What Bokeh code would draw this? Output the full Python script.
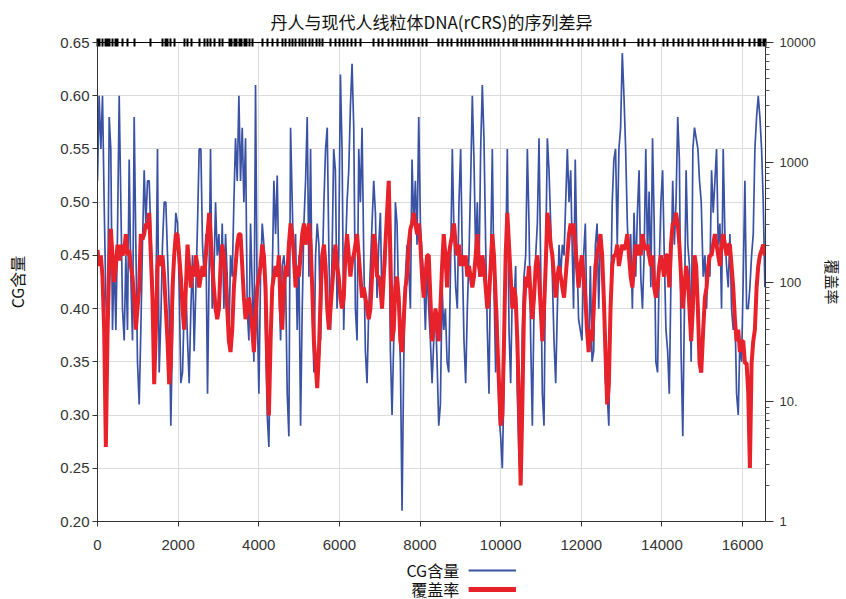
from bokeh.plotting import figure
from bokeh.layouts import column
from bokeh.core.properties import value
from bokeh.models import (Range1d, LogScale, LinearAxis, LogAxis, FixedTicker,
                          CustomJSTickFormatter, NumeralTickFormatter)
from bokeh.embed import file_html
from bokeh.resources import INLINE

BLUE = "#3a52a3"
RED = "#e8222b"
CJK = "Noto Sans CJK SC"
NUM = "Liberation Sans Narrow, Liberation Sans, sans-serif"

# ---------------- data ----------------
x_ticks = [0, 2000, 4000, 6000, 8000, 10000, 12000, 14000, 16000]
cg_ticks = [0.20, 0.25, 0.30, 0.35, 0.40, 0.45, 0.50, 0.55, 0.60, 0.65]
cov_ticks = [1, 10, 100, 1000, 10000]
cov_minor = [2, 3, 4, 5, 6, 7, 8, 9, 20, 30, 40, 50, 60, 70, 80, 90,
             200, 300, 400, 500, 600, 700, 800, 900,
             2000, 3000, 4000, 5000, 6000, 7000, 8000, 9000]
legend_names = ["CG含量", "覆盖率"]

# window positions along the mitochondrial genome (bp)
pos = [
    0, 40, 83, 124, 165, 207, 248, 290, 330, 372,
    414, 455, 496, 538, 579, 620, 662, 703, 744, 786,
    827, 868, 910, 951, 992, 1034, 1075, 1116, 1158, 1199,
    1240, 1282, 1323, 1364, 1406, 1447, 1488, 1530, 1571, 1612,
    1654, 1695, 1737, 1778, 1819, 1861, 1902, 1943, 1985, 2026,
    2067, 2109, 2150, 2192, 2233, 2274, 2316, 2357, 2398, 2440,
    2481, 2522, 2564, 2605, 2646, 2688, 2729, 2770,
    2804, 2845, 2887, 2928, 2970, 3011, 3052, 3094, 3135, 3176,
    3218, 3259, 3300, 3342, 3383, 3424, 3466, 3507, 3548, 3590,
    3631, 3672, 3714, 3755, 3796, 3838, 3879, 3920, 3962, 4003,
    4044, 4086, 4127, 4168, 4210, 4251, 4293, 4334, 4375, 4417,
    4458, 4499, 4541, 4582, 4623, 4665, 4706, 4747, 4789, 4830,
    4871, 4913, 4954, 4995, 5037, 5078, 5120, 5161, 5202, 5244,
    5285, 5326, 5368, 5409, 5450, 5492, 5533, 5574, 5616, 5657,
    5698, 5740, 5781,
    5818, 5859, 5900, 5942, 5983, 6025, 6066, 6107, 6149, 6190,
    6232, 6273, 6314, 6356, 6397, 6438, 6480, 6521, 6562, 6604,
    6645, 6686, 6728, 6769, 6810, 6852, 6893, 6934, 6976, 7017,
    7058, 7100, 7141, 7182, 7224, 7265, 7306, 7348, 7389, 7430,
    7472, 7513, 7554, 7596, 7637, 7678, 7720, 7761, 7802, 7844,
    7885, 7926, 7968, 8009, 8051, 8092, 8133, 8175, 8216, 8257,
    8299, 8340, 8381, 8423, 8464, 8505, 8547, 8588, 8629, 8671,
    8712, 8753,
    8801, 8842, 8884, 8925, 8966, 9008, 9049, 9090, 9132, 9173,
    9214, 9256, 9297, 9338, 9380, 9421, 9462, 9504, 9545, 9586,
    9628, 9669, 9710, 9752, 9793, 9834, 9876, 9917, 9959, 10000,
    10041, 10083, 10124, 10165, 10207, 10248, 10290, 10331, 10372, 10414,
    10455, 10496, 10538, 10579, 10621, 10662, 10703, 10745, 10786, 10827,
    10869, 10910, 10951, 10993, 11034, 11075, 11117, 11158, 11199, 11241,
    11282, 11323, 11365, 11406, 11448, 11489, 11530, 11572, 11613, 11654,
    11696, 11737,
    11767, 11808, 11850, 11892, 11933, 11975, 12017, 12058, 12100, 12142,
    12183, 12225, 12267, 12308, 12350, 12392, 12433, 12475, 12517, 12558,
    12600, 12642, 12683, 12725, 12767, 12808, 12850, 12892, 12933, 12975,
    13017, 13058, 13100, 13142, 13183, 13225, 13267, 13308, 13350, 13392,
    13433, 13475, 13517, 13558, 13600, 13642, 13683, 13725, 13767, 13808,
    13850, 13892, 13933, 13975, 14017, 14058, 14100, 14142, 14183, 14225,
    14267, 14308, 14350, 14392, 14433, 14475, 14517, 14558, 14600, 14642,
    14683, 14725, 14767, 14808, 14850, 14892, 14933, 14975,
    15024, 15066, 15107, 15148, 15190, 15231, 15272, 15314, 15355, 15396,
    15438, 15479, 15520, 15562, 15603, 15645, 15686, 15727, 15769, 15810,
    15852, 15893, 15934, 15976, 16017, 16058, 16100, 16141, 16182, 16224,
    16265, 16306, 16348, 16389, 16430, 16472, 16513, 16554,
]

# GC content per window (left axis)
cg = [
    0.52, 0.60, 0.55, 0.60, 0.50, 0.41, 0.37, 0.58, 0.55, 0.38,
    0.45, 0.38, 0.47, 0.60, 0.50, 0.40, 0.37, 0.45, 0.38, 0.54,
    0.43, 0.37, 0.58, 0.46, 0.35, 0.31, 0.38, 0.46, 0.53, 0.48,
    0.52, 0.52, 0.47, 0.43, 0.38, 0.40, 0.55, 0.34, 0.39, 0.46,
    0.50, 0.50, 0.45, 0.40, 0.29, 0.38, 0.45, 0.49, 0.48, 0.42,
    0.33, 0.34, 0.40, 0.42, 0.37, 0.33, 0.40, 0.45, 0.36, 0.42,
    0.48, 0.55, 0.55, 0.46, 0.43, 0.47, 0.32, 0.44,
    0.55, 0.40, 0.43, 0.50, 0.45, 0.47, 0.42, 0.48, 0.40, 0.47,
    0.43, 0.37, 0.45, 0.43, 0.50, 0.56, 0.52, 0.60, 0.52, 0.57,
    0.50, 0.56, 0.40, 0.37, 0.48, 0.42, 0.35, 0.61, 0.40, 0.32,
    0.43, 0.48, 0.46, 0.38, 0.30, 0.27, 0.38, 0.43, 0.52, 0.47,
    0.525, 0.43, 0.37, 0.44, 0.45, 0.43, 0.32, 0.28, 0.57, 0.50,
    0.43, 0.47, 0.38, 0.45, 0.29, 0.40, 0.48, 0.52, 0.58, 0.43,
    0.55, 0.40, 0.34, 0.45, 0.48, 0.46, 0.37, 0.43, 0.50, 0.55,
    0.57, 0.45, 0.38,
    0.45, 0.55, 0.53, 0.40, 0.45, 0.62, 0.55, 0.38, 0.45, 0.50,
    0.53, 0.59, 0.63, 0.57, 0.40, 0.37, 0.55, 0.50, 0.57, 0.45,
    0.36, 0.33, 0.40, 0.44, 0.48, 0.52, 0.49, 0.41, 0.46, 0.49,
    0.40, 0.43, 0.44, 0.50, 0.52, 0.36, 0.30, 0.37, 0.50, 0.48,
    0.40, 0.35, 0.21, 0.35, 0.43, 0.46, 0.44, 0.40, 0.54, 0.48,
    0.52, 0.46, 0.58, 0.48, 0.45, 0.43, 0.38, 0.44, 0.40, 0.37,
    0.33, 0.37, 0.40, 0.35, 0.29, 0.31, 0.42, 0.38, 0.40, 0.35,
    0.34, 0.43,
    0.55, 0.47, 0.42, 0.40, 0.50, 0.55, 0.45, 0.37, 0.33, 0.40,
    0.45, 0.52, 0.60, 0.54, 0.45, 0.50, 0.43, 0.55, 0.61, 0.56,
    0.46, 0.38, 0.32, 0.45, 0.55, 0.42, 0.34, 0.40, 0.30, 0.28,
    0.25, 0.33, 0.44, 0.55, 0.38, 0.33, 0.42, 0.40, 0.44, 0.32,
    0.26, 0.24, 0.38, 0.43, 0.45, 0.55, 0.48, 0.37, 0.29, 0.40,
    0.45, 0.48, 0.56, 0.44, 0.32, 0.29, 0.45, 0.56, 0.53, 0.48,
    0.43, 0.37, 0.33, 0.40, 0.46, 0.43, 0.46, 0.45, 0.50, 0.55,
    0.50, 0.53,
    0.47, 0.40, 0.54, 0.45, 0.39, 0.38, 0.37, 0.45, 0.48, 0.38,
    0.36, 0.44, 0.35, 0.36, 0.46, 0.48, 0.40, 0.47, 0.44, 0.40,
    0.33, 0.32, 0.29, 0.40, 0.50, 0.54, 0.55, 0.46, 0.55, 0.57,
    0.64, 0.60, 0.55, 0.48, 0.44, 0.47, 0.40, 0.49, 0.43, 0.49,
    0.53, 0.43, 0.40, 0.45, 0.55, 0.45, 0.51, 0.42, 0.56, 0.48,
    0.35, 0.34, 0.44, 0.50, 0.53, 0.45, 0.38, 0.36, 0.32, 0.43,
    0.52, 0.46, 0.50, 0.58, 0.54, 0.36, 0.28, 0.40, 0.53, 0.46,
    0.44, 0.35, 0.55, 0.57, 0.56, 0.55, 0.52, 0.50,
    0.43, 0.45, 0.40, 0.45, 0.43, 0.53, 0.49, 0.52, 0.55, 0.46,
    0.48, 0.40, 0.55, 0.47, 0.44, 0.42, 0.47, 0.40, 0.38, 0.40,
    0.32, 0.30, 0.37, 0.35, 0.43, 0.52, 0.40, 0.40, 0.42, 0.45,
    0.47, 0.55, 0.58, 0.60, 0.58, 0.55, 0.50, 0.42,
]

# sequencing coverage per window (right, log axis)
cov = [
    185, 136, 167, 111, 40, 4.2, 36, 136, 278, 167,
    100, 136, 205, 151, 205, 167, 185, 251, 167, 185,
    136, 111, 74, 40, 60, 90, 251, 227, 251, 308,
    278, 378, 167, 74, 14, 40, 136, 167, 136, 167,
    111, 60, 32, 14, 21, 90, 167, 251, 251, 167,
    111, 60, 40, 90, 205, 136, 90, 136, 111, 167,
    136, 90, 111, 136, 111, 167, 251, 378,
    251, 136, 90, 60, 49, 60, 136, 205, 167, 111,
    60, 32, 26, 40, 90, 136, 205, 251, 251, 136,
    74, 49, 60, 74, 60, 40, 26, 49, 90, 111,
    136, 205, 167, 90, 21, 7.7, 32, 90, 111, 136,
    111, 167, 60, 40, 90, 136, 111, 205, 308, 251,
    167, 90, 136, 111, 167, 251, 308, 205, 251, 308,
    205, 90, 32, 21, 13, 26, 74, 167, 205, 136,
    60, 40, 60,
    90, 136, 205, 136, 111, 74, 60, 74, 167, 251,
    167, 111, 151, 167, 205, 251, 167, 111, 74, 90,
    74, 60, 49, 60, 111, 251, 205, 111, 111, 90,
    60, 111, 205, 378, 700, 167, 32, 40, 90, 111,
    74, 32, 26, 49, 90, 111, 205, 278, 308, 378,
    308, 251, 308, 205, 111, 74, 111, 167, 167, 74,
    32, 40, 60, 49, 32, 60, 136, 251, 167, 90,
    167, 205,
    251, 308, 205, 167, 205, 136, 167, 136, 167, 111,
    136, 111, 90, 111, 167, 251, 136, 111, 167, 136,
    90, 60, 74, 136, 251, 167, 74, 32, 14, 6.3,
    7.7, 32, 167, 378, 205, 111, 60, 90, 74, 32,
    9.5, 2.0, 9.5, 60, 111, 90, 136, 74, 49, 74,
    136, 167, 111, 60, 32, 60, 136, 378, 308, 205,
    167, 111, 74, 111, 136, 111, 90, 74, 111, 167,
    251, 308,
    251, 308, 205, 136, 90, 136, 167, 111, 74, 40,
    26, 40, 32, 60, 136, 167, 205, 251, 167, 74,
    26, 9.5, 14, 60, 136, 167, 167, 205, 136, 167,
    205, 185, 205, 251, 167, 111, 90, 136, 205, 167,
    205, 167, 251, 205, 185, 205, 167, 136, 167, 90,
    74, 90, 136, 167, 136, 111, 167, 167, 90, 205,
    308, 308, 378, 308, 205, 111, 60, 90, 136, 111,
    60, 32, 60, 167, 136, 60, 21, 17.5,
    40, 74, 90, 136, 167, 167, 205, 251, 205, 167,
    136, 205, 251, 205, 167, 205, 205, 136, 90, 49,
    32, 40, 26, 32, 32, 21, 21, 12, 2.8, 21,
    32, 40, 90, 136, 167, 185, 205, 167,
]

# positions of sequence differences (rug along the top)
diff_pos = [
    0, 60, 120, 190, 250, 310, 370, 440, 500, 620, 740, 910, 1320, 1610,
    1680, 1740, 1820, 1900, 2150, 2230, 2320, 2520, 2650, 2730, 2810, 2890,
    3020, 3100, 3270, 3330, 3390, 3450, 3520, 3580, 3640, 3700, 3760, 3850,
    4090, 4220, 4340, 4470, 4590, 4670, 4760, 4840, 4920, 5000, 5090, 5170,
    5250, 5330, 5420, 5500, 5570, 5770, 5900, 6000, 6100, 6190, 6310, 6410,
    6520, 6850, 6970, 7060, 7220, 7320, 7430, 7540, 7630, 7730, 7840, 7950,
    8050, 8170, 8460, 8560, 8670, 8790, 8920, 9020, 9120, 9220, 9330, 9440,
    9540, 9640, 9740, 9850, 9950, 10070, 10200, 10310, 10400, 10530, 10630,
    10740, 10840, 10940, 11040, 11150, 11270, 11420, 11520, 11650, 11770,
    11920, 12040, 12170, 12290, 12420, 12540, 12660, 12790, 12910, 13060,
    13410, 13530, 13660, 13820, 14030, 14150, 14280, 14400, 14520, 14650,
    14770, 14900, 15020, 15140, 15270, 15390, 15520, 15640, 15760, 15890,
    16010, 16180, 16300, 16390, 16450, 16510, 16560,
]

n = min(len(pos), len(cg), len(cov))
pos_b, cg_b, cov_b = pos[:n], cg[:n], cov[:n]

# ---------------- main figure ----------------
p = figure(width=846, height=558, output_backend="svg", toolbar_location=None,
           x_range=Range1d(0, 16569), y_range=Range1d(0.20, 0.65),
           min_border_left=97, min_border_right=81,
           min_border_top=42, min_border_bottom=37)
p.extra_y_ranges = {"cov": Range1d(1, 10000)}
p.extra_y_scales = {"cov": LogScale()}
p.background_fill_color = "white"
p.border_fill_color = "white"
p.outline_line_color = "#333333"

p.title.text = "丹人与现代人线粒体DNA(rCRS)的序列差异"
p.title.align = "center"
p.title.text_font = CJK
p.title.text_font_size = "17px"
p.title.text_font_style = "normal"
p.title.text_color = "#111111"

# bottom axis
xa = p.xaxis[0]
xa.ticker = FixedTicker(ticks=x_ticks)
xa.major_label_text_font = NUM
xa.major_label_text_font_size = "15px"
xa.major_label_text_color = "#333333"
xa.major_tick_out = 5
xa.major_tick_in = 0
xa.major_label_standoff = 13
xa.minor_tick_line_color = None
xa.axis_line_color = "#333333"
xa.major_tick_line_color = "#333333"

# left axis
ya = p.yaxis[0]
ya.ticker = FixedTicker(ticks=cg_ticks)
ya.formatter = NumeralTickFormatter(format="0.00")
ya.major_label_text_font = NUM
ya.major_label_text_font_size = "15px"
ya.major_label_text_color = "#333333"
ya.major_tick_out = 5
ya.major_tick_in = 0
ya.major_label_standoff = 3
ya.minor_tick_line_color = None
ya.axis_line_color = "#333333"
ya.major_tick_line_color = "#333333"
ya.axis_label = "CG含量"
ya.axis_label_text_font = CJK
ya.axis_label_text_font_size = "16px"
ya.axis_label_text_font_style = "normal"
ya.axis_label_text_color = "#111111"
ya.axis_label_standoff = 28

# right log axis (coverage)
ra = LogAxis(y_range_name="cov",
             ticker=FixedTicker(ticks=cov_ticks, minor_ticks=cov_minor),
             formatter=CustomJSTickFormatter(
                 code="return tick == 10 ? '10.' : String(Math.round(tick));"))
ra.major_label_text_font = NUM
ra.major_label_text_font_size = "13px"
ra.major_label_text_color = "#333333"
ra.major_tick_out = 8
ra.major_tick_in = 0
ra.minor_tick_out = 4
ra.minor_tick_in = 0
ra.major_label_standoff = 6
ra.axis_line_color = "#333333"
ra.major_tick_line_color = "#333333"
ra.minor_tick_line_color = "#555555"
ra.axis_label = "覆盖率"
ra.axis_label_text_font = CJK
ra.axis_label_text_font_size = "15px"
ra.axis_label_text_font_style = "normal"
ra.axis_label_text_color = "#111111"
ra.axis_label_standoff = 3
p.add_layout(ra, "right")

# rug of difference positions along the top edge
rug = LinearAxis(ticker=FixedTicker(ticks=diff_pos),
                 major_tick_in=4, major_tick_out=4,
                 major_tick_line_width=2, major_tick_line_color="black",
                 minor_tick_line_color=None, axis_line_color="black",
                 major_label_text_font_size="1px", major_label_text_alpha=0,
                 major_label_standoff=0)
p.add_layout(rug, "above")

# grids
p.xgrid.ticker = FixedTicker(ticks=x_ticks)
p.ygrid.ticker = FixedTicker(ticks=cg_ticks)
p.xgrid.grid_line_color = "#dcdcdc"
p.ygrid.grid_line_color = "#dcdcdc"

# series
p.line(pos_b, cg_b, line_color=BLUE, line_width=1.7)
p.line(pos_b, cov_b, line_color=RED, line_width=4, y_range_name="cov")

# ---------------- legend strip below (label text, then line sample) ----------------
lg = figure(width=846, height=41, output_backend="svg", toolbar_location=None,
            x_range=Range1d(0, 846), y_range=Range1d(41, 0),
            x_axis_type=None, y_axis_type=None, min_border=0)
lg.outline_line_color = None
lg.background_fill_color = "white"
lg.border_fill_color = "white"
lg.text(x=[458, 458], y=[11, 30], text=legend_names, text_align="right",
        text_baseline="middle", text_font=value(CJK), text_font_size="16px",
        text_color="#111111")
lg.segment(x0=[470, 470], y0=[12, 31], x1=[530, 530], y1=[12, 31],
           line_color=[BLUE, RED], line_width=[2, 5])

layout = column(p, lg, spacing=0)
open("out.html", "w").write(file_html(layout, INLINE))
